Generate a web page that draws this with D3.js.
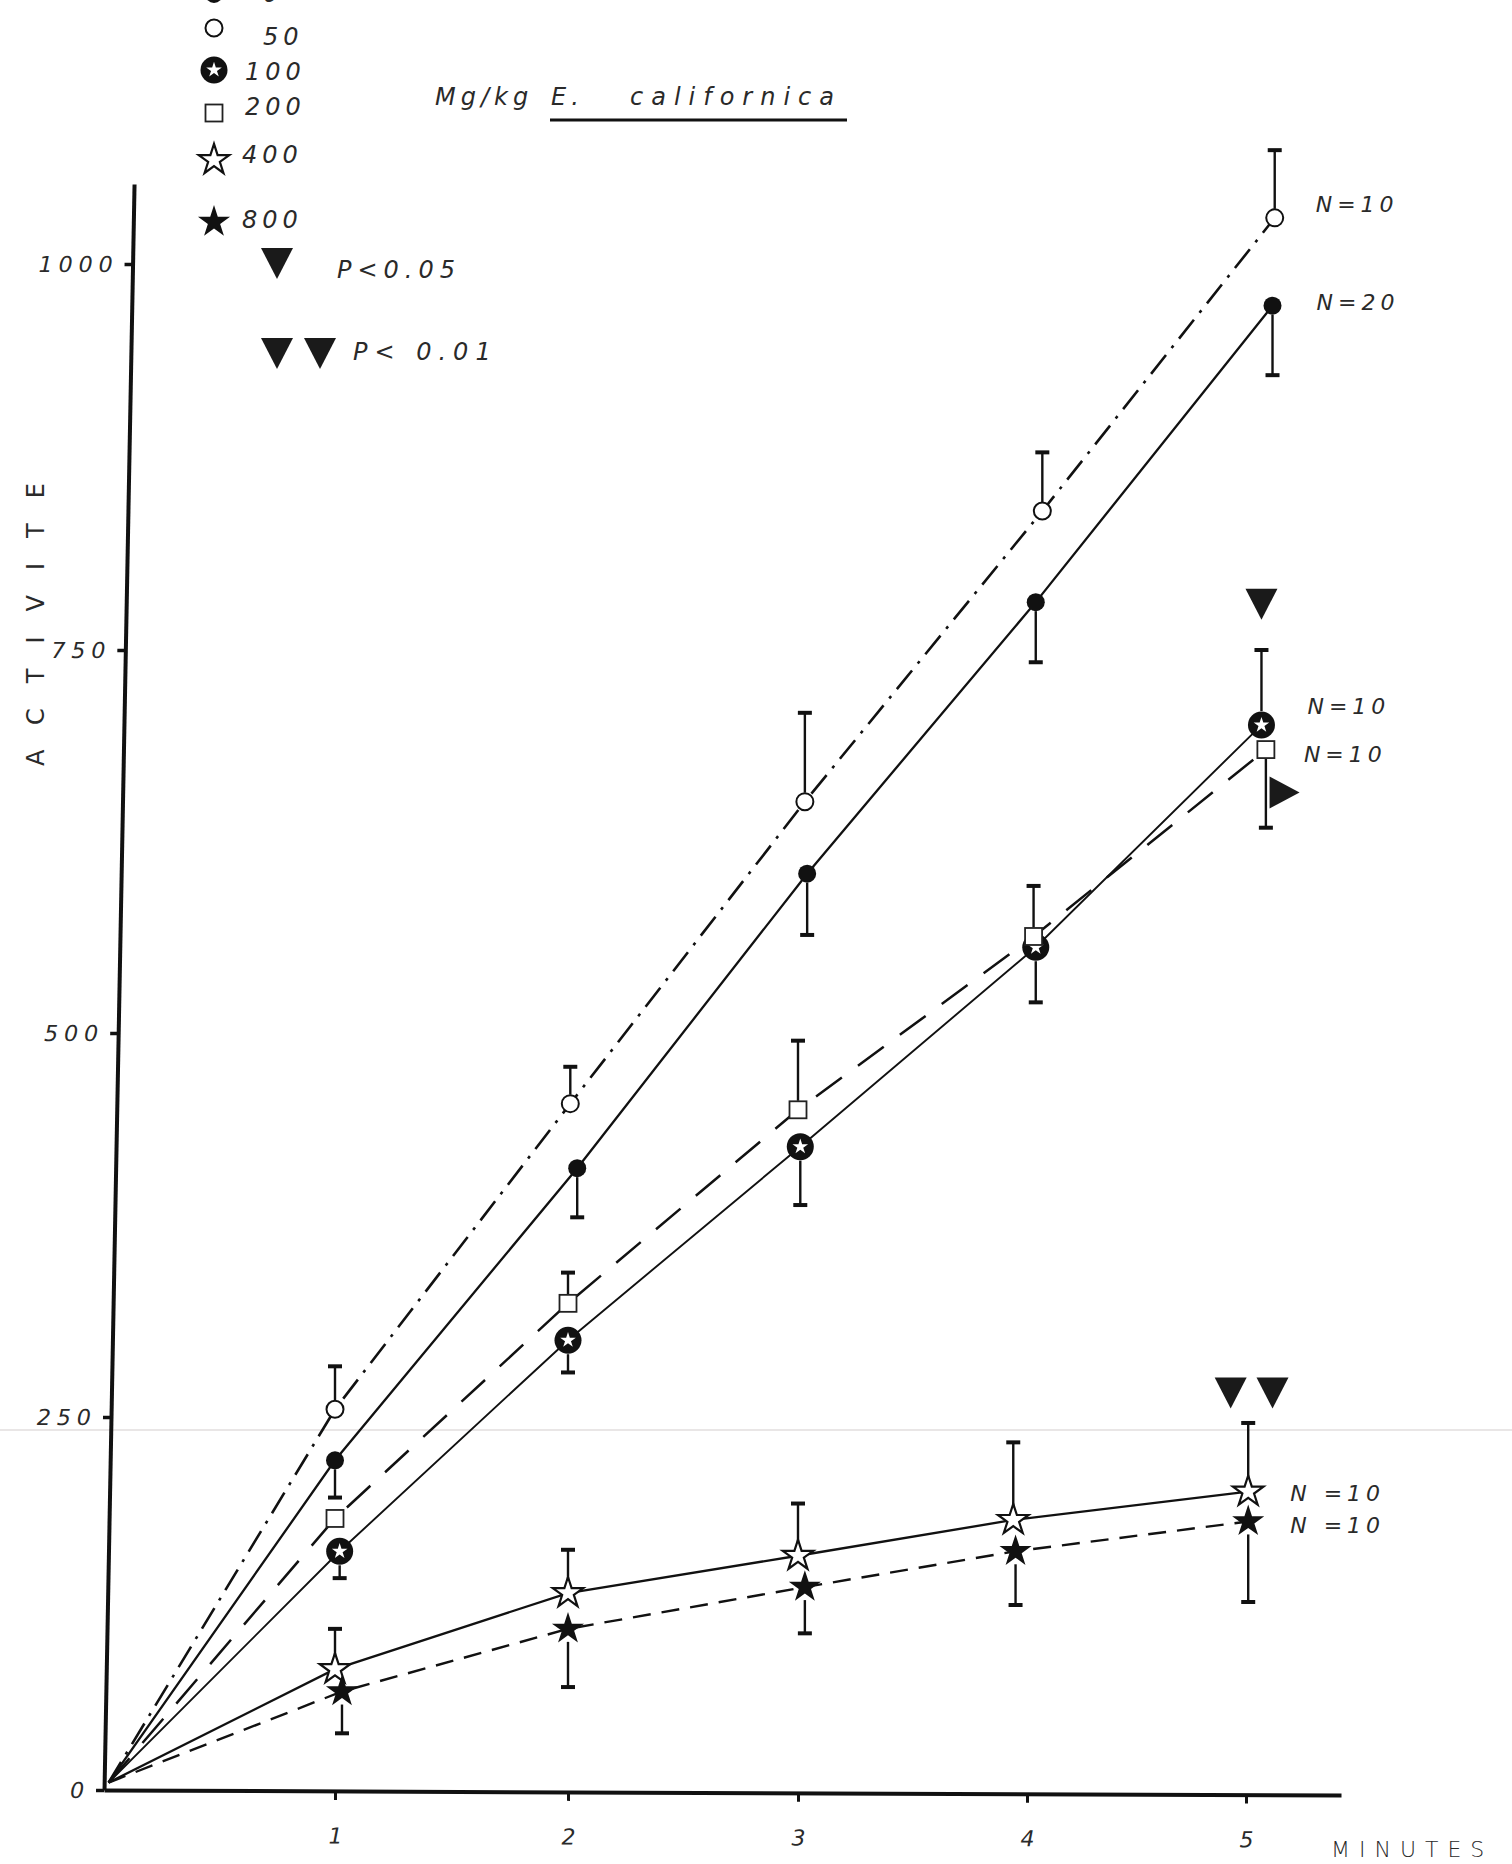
<!DOCTYPE html>
<html><head><meta charset="utf-8">
<script src="https://cdn.jsdelivr.net/npm/d3@7"></script>
<style>
html,body{margin:0;padding:0;background:#fff;}
svg{display:block;}
text{font-family:"DejaVu Sans","Liberation Sans",sans-serif;font-style:italic;fill:#2a2a2a;}
</style></head><body>
<svg id="chart" width="1512" height="1864"></svg>
<script>
// ---------------- DATA ----------------
const minuteTicks = [1, 2, 3, 4, 5];
const activityTicks = [0, 250, 500, 750, 1000];
const doseLabels = ["0", "50", "100", "200", "400", "800"];
const lineStart = [0.02, 5];

// control (0 mg/kg), filled circle, solid
const xCtrl = [1.0, 2.04, 3.04, 4.04, 5.12];
const yCtrl = [221, 412, 604, 781, 973];
const eCtrl = [196, 380, 564, 742, 928];
// 50 mg/kg, open circle, dash-dot
const x50 = [1.0, 2.01, 3.03, 4.07, 5.13];
const y50 = [255, 454, 651, 840, 1030];
const e50 = [283, 478, 709, 878, 1074];
// 100 mg/kg, circled star, solid
const x100 = [1.02, 2.0, 3.01, 4.04, 5.07];
const y100 = [160, 300, 426, 556, 701];
const e100 = [142, 279, 388, 520, 750];
// 200 mg/kg, open square, long dashes
const x200 = [1.0, 2.0, 3.0, 4.03, 5.09];
const y200 = [182, 324, 450, 563, 685];
const e200 = [null, 344, 495, 596, 634];
// 400 mg/kg, open star, solid
const x400 = [1.0, 2.0, 3.0, 3.94, 5.01];
const y400 = [81, 132, 157, 181, 200];
const e400 = [108, 161, 192, 233, 246];
// 800 mg/kg, filled star, short dashes
const x800 = [1.03, 2.0, 3.03, 3.95, 5.01];
const y800 = [66, 108, 136, 160, 180];
const e800 = [38, 69, 105, 124, 126];

// N labels (order: 50, control, 100, 200, 400, 800)
const nLabels = ["N=10", "N=20", "N=10", "N=10", "N =10", "N =10"];
// significance marks
const sigX = [5.07, 5.17, 4.93, 5.12];
const sigY = [780, 657, 266, 266];
const sigDir = ["down", "right", "down", "down"];

// ---------------- CHART ----------------
const svg = d3.select("#chart");
const x = d3.scaleLinear().domain([0, 1, 2, 3, 4, 5, 5.43]).range([104, 335, 568, 798, 1027, 1246, 1341]);
const y = d3.scaleLinear().domain([0, 250, 500, 750, 1000, 1052]).range([1790, 1417, 1033, 650, 264, 184]);
const fmt = d3.format("d");

// faint scan fold line
svg.append("line").attr("x1", 0).attr("x2", 1512).attr("y1", 1430).attr("y2", 1430)
  .attr("stroke", "#e9e6e6").attr("stroke-width", 2);

// y axis (slightly slanted, like the hand drawing)
const yAxis = svg.append("g")
  .attr("transform", "matrix(1,0,-0.0187,1,137.5,0)")
  .call(d3.axisLeft(y).tickValues(activityTicks).tickFormat(fmt).tickSize(8).tickSizeOuter(0).tickPadding(6));
yAxis.select(".domain").attr("stroke", "#111").attr("stroke-width", 4);
yAxis.selectAll(".tick line").attr("stroke", "#111").attr("stroke-width", 3.5);
yAxis.selectAll(".tick text").attr("font-size", 22).attr("letter-spacing", 6)
  .attr("font-family", "DejaVu Sans, sans-serif").attr("fill", "#333").style("font-weight", 300);

// x axis
const xAxis = svg.append("g")
  .attr("transform", "matrix(1,0.004,0,1,0,1789.6)")
  .call(d3.axisBottom(x).tickValues(minuteTicks).tickFormat(fmt).tickSize(9).tickSizeOuter(0).tickPadding(28));
xAxis.select(".domain").attr("stroke", "#111").attr("stroke-width", 4);
xAxis.selectAll(".tick line").attr("stroke", "#111").attr("stroke-width", 3);
xAxis.selectAll(".tick text").attr("font-size", 22).attr("fill", "#333")
  .attr("font-family", "DejaVu Sans, sans-serif").style("font-weight", 300);

// axis titles
svg.append("text").attr("transform", "translate(44,612) rotate(-90)")
  .attr("text-anchor", "middle").attr("font-size", 24).attr("letter-spacing", 25)
  .style("font-style", "normal").attr("fill", "#333").text("ACTIVITE");
svg.append("text").attr("x", 1331).attr("y", 1857).attr("font-size", 22)
  .attr("letter-spacing", 9).style("font-style", "normal").style("font-weight", 300)
  .attr("fill", "#333").text("MINUTES");

// title
svg.append("text").attr("x", 435).attr("y", 105).attr("font-size", 24).attr("letter-spacing", 5).text("Mg/kg");
svg.append("text").attr("x", 551).attr("y", 105).attr("font-size", 24).attr("letter-spacing", 5).text("E.");
svg.append("text").attr("x", 630).attr("y", 105).attr("font-size", 24).attr("letter-spacing", 8).text("californica");
svg.append("line").attr("x1", 550).attr("x2", 847).attr("y1", 120).attr("y2", 120)
  .attr("stroke", "#111").attr("stroke-width", 3);

// marker drawing
const starPath = (size) => d3.symbol().type(d3.symbolStar).size(size)();
function marker(g, type, cx, cy) {
  const m = g.append("g").attr("transform", `translate(${cx},${cy})`);
  if (type === "filled") m.append("circle").attr("r", 9).attr("fill", "#111");
  else if (type === "open") m.append("circle").attr("r", 8.5).attr("fill", "#fff").attr("stroke", "#111").attr("stroke-width", 2);
  else if (type === "starcircle") {
    m.append("circle").attr("r", 13.5).attr("fill", "#111");
    m.append("path").attr("d", starPath(75)).attr("fill", "#fff");
  } else if (type === "square") m.append("rect").attr("x", -8.5).attr("y", -8.5).attr("width", 17).attr("height", 17)
    .attr("fill", "#fff").attr("stroke", "#222").attr("stroke-width", 1.8);
  else if (type === "openstar") m.append("path").attr("d", starPath(290)).attr("fill", "#fff").attr("stroke", "#111").attr("stroke-width", 2.2);
  else if (type === "filledstar") m.append("path").attr("d", starPath(320)).attr("fill", "#111");
  return m;
}
function triangle(g, cx, cy, dir) {
  const p = d3.path();
  if (dir === "down") { p.moveTo(cx - 16, cy - 15); p.lineTo(cx + 16, cy - 15); p.lineTo(cx, cy + 16); }
  else { p.moveTo(cx - 14, cy - 16); p.lineTo(cx + 16, cy); p.lineTo(cx - 14, cy + 16); }
  p.closePath();
  g.append("path").attr("d", p.toString()).attr("fill", "#1a1a1a");
}

const series = [
  { xs: x50, ys: y50, es: e50, sym: "open", r: 9, dash: "24,9,3,9", w: 2.6 },
  { xs: xCtrl, ys: yCtrl, es: eCtrl, sym: "filled", r: 9, dash: null, w: 2.3 },
  { xs: x100, ys: y100, es: e100, sym: "starcircle", r: 14, dash: null, w: 1.9 },
  { xs: x200, ys: y200, es: e200, sym: "square", r: 9, dash: "32,20", w: 2.5 },
  { xs: x400, ys: y400, es: e400, sym: "openstar", r: 13, dash: null, w: 2.3 },
  { xs: x800, ys: y800, es: e800, sym: "filledstar", r: 13, dash: "18,11", w: 2.4 }
];
const nOffsets = [[41, -14], [44, -4], [46, -19], [38, 4], [42, 1], [42, 4]];

const line = d3.line().x(d => x(d[0])).y(d => y(d[1]));
const plot = svg.append("g");
series.forEach(s => {
  const pts = [lineStart].concat(s.xs.map((v, i) => [v, s.ys[i]]));
  plot.append("path").attr("d", line(pts)).attr("fill", "none").attr("stroke", "#111")
    .attr("stroke-width", s.w).attr("stroke-dasharray", s.dash);
});
series.forEach(s => {
  s.xs.forEach((v, i) => {
    const e = s.es[i];
    if (e == null) return;
    const cx = x(v), cy = y(s.ys[i]), ey = y(e);
    const sy = ey < cy ? cy - s.r : cy + s.r;
    plot.append("line").attr("x1", cx).attr("x2", cx).attr("y1", sy).attr("y2", ey)
      .attr("stroke", "#111").attr("stroke-width", 2.4);
    plot.append("line").attr("x1", cx - 7).attr("x2", cx + 7).attr("y1", ey).attr("y2", ey)
      .attr("stroke", "#111").attr("stroke-width", 4);
  });
});
series.forEach((s, k) => {
  s.xs.forEach((v, i) => marker(plot, s.sym, x(v), y(s.ys[i])));
  const lx = x(s.xs[4]) + nOffsets[k][0], ly = y(s.ys[4]) + nOffsets[k][1];
  plot.append("text").attr("x", lx).attr("y", ly).attr("dy", "0.36em").attr("font-size", 22)
    .attr("letter-spacing", 5).style("font-weight", 300).text(nLabels[k]);
});
sigX.forEach((v, i) => triangle(plot, x(v), y(sigY[i]), sigDir[i]));

// legend
const legendSyms = ["filled", "open", "starcircle", "square", "openstar", "filledstar"];
const legendY = [-6, 28, 70, 113, 160, 222];
const legendTX = [263, 263, 245, 245, 242, 242];
const legendBase = [2, 45, 80, 115, 163, 228];
const lg = svg.append("g");
doseLabels.forEach((d, i) => {
  marker(lg, legendSyms[i], 214, legendY[i]);
  lg.append("text").attr("x", legendTX[i]).attr("y", legendBase[i]).attr("font-size", 24)
    .attr("letter-spacing", 5).style("font-weight", 300).text(d);
});
triangle(lg, 277, 263, "down");
lg.append("text").attr("x", 337).attr("y", 278).attr("font-size", 24).attr("letter-spacing", 6).style("font-weight", 300).text("P<0.05");
triangle(lg, 277, 353, "down");
triangle(lg, 320, 353, "down");
lg.append("text").attr("x", 353).attr("y", 360).attr("font-size", 24).attr("letter-spacing", 7).style("font-weight", 300).text("P< 0.01");
</script>
</body></html>
